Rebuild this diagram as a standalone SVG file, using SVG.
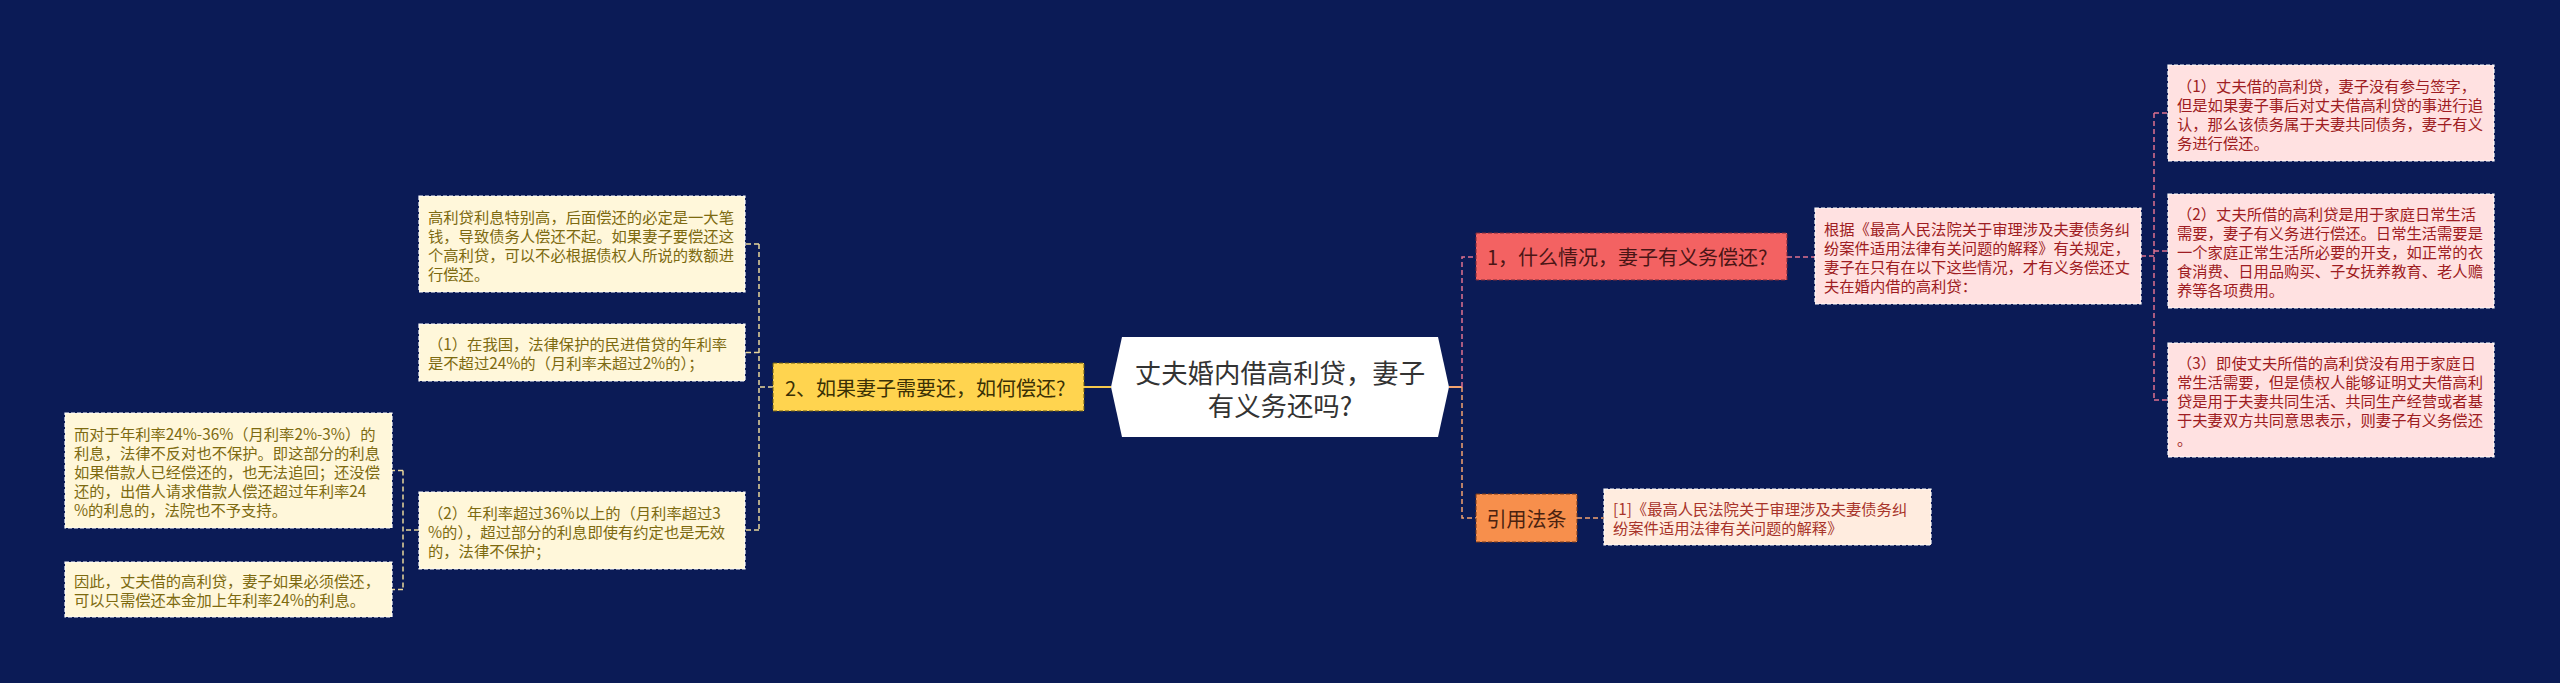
<svg xmlns="http://www.w3.org/2000/svg" width="2560" height="683" viewBox="0 0 2560 683">
<style>
text{font-family:"Noto Sans CJK SC","Noto Sans",sans-serif;dominant-baseline:central}
.s{font-size:15.3px}
.m{font-size:20px}
.pink rect{fill:#FFE1E1;stroke:#ffffff;stroke-width:1.2;stroke-dasharray:4 2}
.pink text{fill:#9E1C22}
.cream rect{fill:#FFF7DA;stroke:#ffffff;stroke-width:1.2;stroke-dasharray:4 2}
.cream text{fill:#7D6A10}
.peach rect{fill:#FFECDF;stroke:#ffffff;stroke-width:1.2;stroke-dasharray:4 2}
.peach text{fill:#A8342A}
.cy{fill:none;stroke:#E9D79A;stroke-width:1.5;stroke-dasharray:5 3}
.cp{fill:none;stroke:#E0728E;stroke-width:1.5;stroke-dasharray:5 3}
.co{fill:none;stroke:#F3A36F;stroke-width:1.5;stroke-dasharray:5 3}
</style>
<rect x="0" y="0" width="2560" height="683" fill="#0B1B56"/>
<g id="connectors">
<line x1="1111" y1="387" x2="1084" y2="387" stroke="#F5C84C" stroke-width="2"/>
<path class="cy" d="M773 387H759M759 244V530M759 244H745M759 352.5H745M759 530H745"/>
<path class="cy" d="M419 530H403M403 470.5V589.5M403 470.5H392M403 589.5H392"/>
<line x1="1449" y1="387" x2="1462" y2="387" stroke="#F3A36F" stroke-width="2"/>
<path class="cp" d="M1462 387V257H1476M1787 257H1815M2141 256H2154M2154 113V400M2154 113H2168M2154 251H2168M2154 400H2168"/>
<path class="co" d="M1462 387V518H1476M1577 518H1604"/>
</g>
<g id="root">
<polygon points="1111,387 1122,337 1438,337 1449,387 1438,437 1122,437" fill="#ffffff"/>
<text x="1280" y="371" font-size="26.4" fill="#333333" text-anchor="middle">丈夫婚内借高利贷，妻子</text>
<text x="1280" y="404" font-size="26.4" fill="#333333" text-anchor="middle">有义务还吗?</text>
</g>
<g id="n1">
<rect x="1476" y="233" width="311" height="47" fill="#F36262" stroke="#7a2a3a" stroke-width="1" stroke-dasharray="4 2"/>
<text x="1487" y="256.5" class="m" fill="#4A1515">1，什么情况，妻子有义务偿还?</text>
</g>
<g id="n1a" class="pink">
<rect x="1815" y="208" width="326" height="96"/>
<text class="s" x="1824" y="227.5">根据《最高人民法院关于审理涉及夫妻债务纠</text>
<text class="s" x="1824" y="246.5">纷案件适用法律有关问题的解释》有关规定，</text>
<text class="s" x="1824" y="265.5">妻子在只有在以下这些情况，才有义务偿还丈</text>
<text class="s" x="1824" y="284.5">夫在婚内借的高利贷：</text>
</g>
<g id="n1a1" class="pink">
<rect x="2168" y="65" width="326" height="96"/>
<text class="s" x="2177" y="84.5">（1）丈夫借的高利贷，妻子没有参与签字，</text>
<text class="s" x="2177" y="103.5">但是如果妻子事后对丈夫借高利贷的事进行追</text>
<text class="s" x="2177" y="122.5">认，那么该债务属于夫妻共同债务，妻子有义</text>
<text class="s" x="2177" y="141.5">务进行偿还。</text>
</g>
<g id="n1a2" class="pink">
<rect x="2168" y="194" width="326" height="114"/>
<text class="s" x="2177" y="213">（2）丈夫所借的高利贷是用于家庭日常生活</text>
<text class="s" x="2177" y="232">需要，妻子有义务进行偿还。日常生活需要是</text>
<text class="s" x="2177" y="251">一个家庭正常生活所必要的开支，如正常的衣</text>
<text class="s" x="2177" y="270">食消费、日用品购买、子女抚养教育、老人赡</text>
<text class="s" x="2177" y="289">养等各项费用。</text>
</g>
<g id="n1a3" class="pink">
<rect x="2168" y="343" width="326" height="114"/>
<text class="s" x="2177" y="362">（3）即使丈夫所借的高利贷没有用于家庭日</text>
<text class="s" x="2177" y="381">常生活需要，但是债权人能够证明丈夫借高利</text>
<text class="s" x="2177" y="400">贷是用于夫妻共同生活、共同生产经营或者基</text>
<text class="s" x="2177" y="419">于夫妻双方共同意思表示，则妻子有义务偿还</text>
<text class="s" x="2177" y="438">。</text>
</g>
<g id="n3">
<rect x="1476" y="494" width="101" height="48" fill="#F78F4C" stroke="#7a3a1a" stroke-width="1" stroke-dasharray="4 2"/>
<text x="1526.5" y="518" class="m" fill="#4A2210" text-anchor="middle">引用法条</text>
</g>
<g id="n3a" class="peach">
<rect x="1604" y="489" width="327" height="56"/>
<text class="s" x="1613" y="507.5">[1]《最高人民法院关于审理涉及夫妻债务纠</text>
<text class="s" x="1613" y="526.5">纷案件适用法律有关问题的解释》</text>
</g>
<g id="n2">
<rect x="773" y="363" width="311" height="48" fill="#FFD44F" stroke="#6a5a10" stroke-width="1" stroke-dasharray="4 2"/>
<text x="785" y="387" class="m" fill="#3A3005">2、如果妻子需要还，如何偿还?</text>
</g>
<g id="n2a" class="cream">
<rect x="419" y="196" width="326" height="96"/>
<text class="s" x="428" y="215.5">高利贷利息特别高，后面偿还的必定是一大笔</text>
<text class="s" x="428" y="234.5">钱，导致债务人偿还不起。如果妻子要偿还这</text>
<text class="s" x="428" y="253.5">个高利贷，可以不必根据债权人所说的数额进</text>
<text class="s" x="428" y="272.5">行偿还。</text>
</g>
<g id="n2b" class="cream">
<rect x="419" y="324" width="326" height="57"/>
<text class="s" x="428" y="343">（1）在我国，法律保护的民进借贷的年利率</text>
<text class="s" x="428" y="362">是不超过24%的（月利率未超过2%的）；</text>
</g>
<g id="n2c" class="cream">
<rect x="419" y="492" width="326" height="77"/>
<text class="s" x="428" y="511.5">（2）年利率超过36%以上的（月利率超过3</text>
<text class="s" x="428" y="530.5">%的），超过部分的利息即使有约定也是无效</text>
<text class="s" x="428" y="549.5">的，法律不保护；</text>
</g>
<g id="n2c1" class="cream">
<rect x="65" y="413" width="327" height="115"/>
<text class="s" x="74" y="432.5">而对于年利率24%-36%（月利率2%-3%）的</text>
<text class="s" x="74" y="451.5">利息，法律不反对也不保护。即这部分的利息</text>
<text class="s" x="74" y="470.5">如果借款人已经偿还的，也无法追回；还没偿</text>
<text class="s" x="74" y="489.5">还的，出借人请求借款人偿还超过年利率24</text>
<text class="s" x="74" y="508.5">%的利息的，法院也不予支持。</text>
</g>
<g id="n2c2" class="cream">
<rect x="65" y="562" width="327" height="55"/>
<text class="s" x="74" y="580">因此，丈夫借的高利贷，妻子如果必须偿还，</text>
<text class="s" x="74" y="599">可以只需偿还本金加上年利率24%的利息。</text>
</g>
</svg>
